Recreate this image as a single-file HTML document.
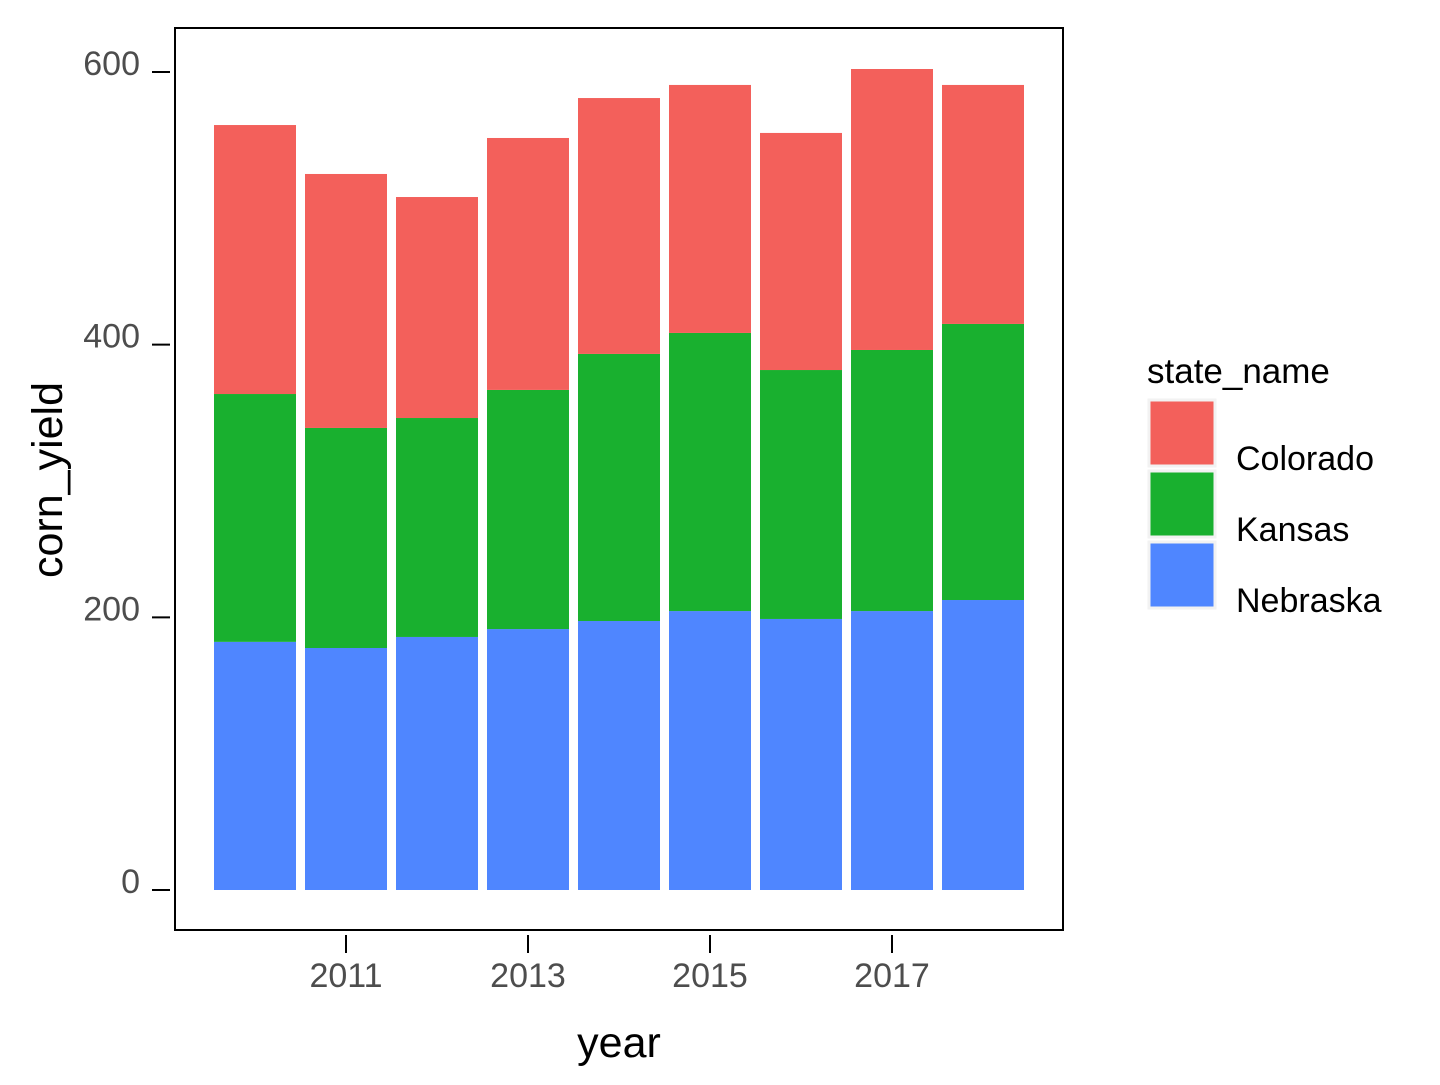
<!DOCTYPE html>
<html><head><meta charset="utf-8"><style>
html,body{margin:0;padding:0;background:#fff;}
svg text{font-family:"Liberation Sans",Arial,sans-serif;}
</style></head><body>
<svg id="chart" width="1440" height="1080" xmlns="http://www.w3.org/2000/svg">
<rect x="0" y="0" width="1440" height="1080" fill="#fff"/>
<g id="bars"></g>
<rect x="175" y="28" width="888" height="902" fill="none" stroke="#000" stroke-width="2"/>
<g id="yaxis"></g>
<g id="xaxis"></g>
<text x="619" y="1057" font-size="43" text-anchor="middle" fill="#000">year</text>
<text transform="translate(62,480) rotate(-90)" font-size="43" text-anchor="middle" fill="#000">corn_yield</text>
<g id="legend">
<text x="1147" y="383" font-size="35" fill="#000">state_name</text>
</g>
</svg>
<script>
const years = [2010, 2011, 2012, 2013, 2014, 2015, 2016, 2017, 2018];
const nebraska = [182, 177.5, 185.6, 191.4, 197.3, 204.6, 198.8, 204.6, 212.7];
const kansas = [181.8, 161.4, 160.6, 175.4, 195.9, 204, 182.6, 191.5, 202.5];
const colorado = [197.3, 186.3, 162.1, 184.8, 187.7, 181.9, 173.9, 206.1, 175.3];
const yTicks = [0, 200, 400, 600];
const xTicks = [2011, 2013, 2015, 2017];
const stateNames = ["Colorado", "Kansas", "Nebraska"];

const NS = "http://www.w3.org/2000/svg";
const colors = {Nebraska:"#4f86ff", Kansas:"#19b02f", Colorado:"#f3605b"};
function yScale(v){ return 890 - v * (818/600); }
function xScale(yr){ return 255 + (yr - 2010) * 91; }
const bw = 82;
function mk(tag, attrs, parent){ const e=document.createElementNS(NS,tag); for(const k in attrs) e.setAttribute(k,attrs[k]); parent.appendChild(e); return e; }

const bars = document.getElementById("bars");
const series = [["Nebraska", nebraska], ["Kansas", kansas], ["Colorado", colorado]];
years.forEach((yr, i) => {
  let base = 0;
  series.forEach(([name, vals]) => {
    const top = base + vals[i];
    const r = mk("rect", {x: xScale(yr) - bw/2, y: yScale(top), width: bw, height: yScale(base) - yScale(top), fill: colors[name]}, bars);
    
    
    base = top;
  });
});

const ya = document.getElementById("yaxis");
yTicks.forEach(v => {
  const y = yScale(v);
  const l = mk("line", {x1: 152, x2: 170, y1: y, y2: y, stroke: "#000", "stroke-width": 2}, ya);
  
  
  const t = mk("text", {x: 140, y: y + 3, "font-size": 34, fill: "#4d4d4d", "text-anchor": "end"}, ya);
  t.textContent = v;
  
  
});

const xa = document.getElementById("xaxis");
xTicks.forEach(v => {
  const x = xScale(v);
  const l = mk("line", {x1: x, x2: x, y1: 935, y2: 953, stroke: "#000", "stroke-width": 2}, xa);
  
  
  const t = mk("text", {x: x, y: 987, "font-size": 34, fill: "#4d4d4d", "text-anchor": "middle"}, xa);
  t.textContent = v;
  
  
});

const lg = document.getElementById("legend");
stateNames.forEach((name, i) => {
  const y = 400 + i * 71;
  const r = mk("rect", {x: 1149, y: y, width: 66, height: 66, fill: colors[name], stroke: "#f2f2f2", "stroke-width": 3}, lg);
  
  
  const t = mk("text", {x: 1236, y: y + 70, "font-size": 34, fill: "#000"}, lg);
  t.textContent = name;
  
  
});
</script>
</body></html>
